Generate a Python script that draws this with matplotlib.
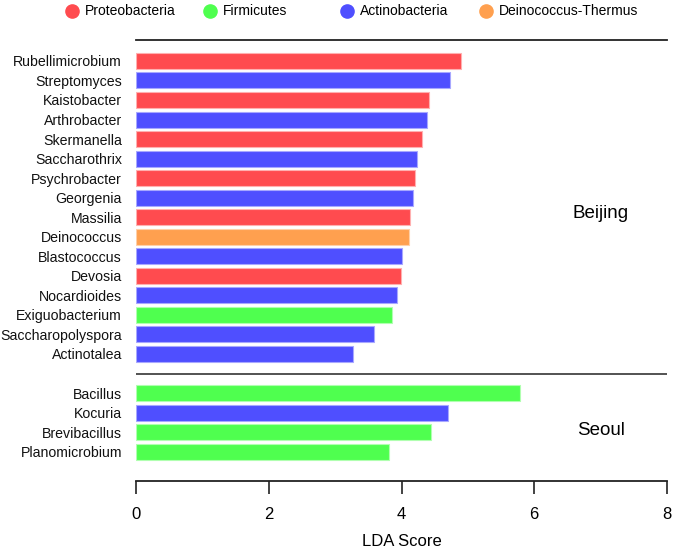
import matplotlib.pyplot as plt
from matplotlib.lines import Line2D

plt.rcParams['font.family'] = ['Liberation Sans', 'DejaVu Sans']

# Beijing enriched genera (top to bottom)
beijing_names = ['Rubellimicrobium', 'Streptomyces', 'Kaistobacter', 'Arthrobacter',
                 'Skermanella', 'Saccharothrix', 'Psychrobacter', 'Georgenia',
                 'Massilia', 'Deinococcus', 'Blastococcus', 'Devosia',
                 'Nocardioides', 'Exiguobacterium', 'Saccharopolyspora', 'Actinotalea']
beijing_lda = [4.89, 4.73, 4.42, 4.38, 4.31, 4.23, 4.20, 4.18,
               4.13, 4.11, 4.00, 3.99, 3.93, 3.86, 3.59, 3.27]
beijing_phylum = ['P', 'A', 'P', 'A', 'P', 'A', 'P', 'A',
                  'P', 'D', 'A', 'P', 'A', 'F', 'A', 'A']

# Seoul enriched genera
seoul_names = ['Bacillus', 'Kocuria', 'Brevibacillus', 'Planomicrobium']
seoul_lda = [5.78, 4.70, 4.45, 3.81]
seoul_phylum = ['F', 'A', 'F', 'F']

phyla = ['P', 'F', 'A', 'D']
phylum_names = ['Proteobacteria', 'Firmicutes', 'Actinobacteria', 'Deinococcus-Thermus']
colors = {'P': '#ff4b4f', 'F': '#4fff4f', 'A': '#4f4fff', 'D': '#ffa04f'}
edges = {'P': '#ffb0b0', 'F': '#b0ffb0', 'A': '#a8a8ff', 'D': '#ffd0a8'}

names = beijing_names + seoul_names
vals = beijing_lda + seoul_lda
phy = beijing_phylum + seoul_phylum
ypos = list(range(len(beijing_names))) + [len(beijing_names) + 1 + i for i in range(len(seoul_names))]

fig = plt.figure(figsize=(6.75, 5.49), dpi=100)
ax = fig.add_axes([136/675, 1 - 481/549, 531/675, 441/549])

ax.barh(ypos, vals, height=0.82, color=[colors[p] for p in phy],
        edgecolor=[edges[p] for p in phy], linewidth=0.8)

ax.set_ylim(21.5, -1.07)
ax.set_xlim(0, 8)
ax.set_yticks(ypos)
ax.set_yticklabels(names, fontsize=10.2, color='#111111')
ax.tick_params(axis='y', length=0, pad=10)
ax.set_xticks([0, 2, 4, 6, 8])
ax.tick_params(axis='x', length=9, width=1.2, labelsize=12, pad=10, color='#222222')
ax.set_xlabel('LDA Score', fontsize=12, labelpad=8)

for s in ['left', 'right']:
    ax.spines[s].set_visible(False)
ax.spines['top'].set_color('#222222')
ax.spines['top'].set_linewidth(1.3)
ax.spines['bottom'].set_linewidth(1.3)
ax.spines['bottom'].set_color('#222222')
ax.axhline(len(beijing_names), color='#444444', lw=1.3)

ax.text(7.0, 7.8, 'Beijing', fontsize=13.5, ha='center', va='center')
ax.text(7.0, 18.9, 'Seoul', fontsize=13.5, ha='center', va='center')

# legend along the top
lx = [72, 210, 347, 486]
for x, p, n in zip(lx, phyla, phylum_names):
    fig.add_artist(Line2D([x / 675], [1 - 11 / 549], marker='o', markersize=9.5,
                          color=colors[p], transform=fig.transFigure))
    fig.text((x + 13) / 675, 1 - 11 / 549, n, fontsize=10, va='center', ha='left')

fig.savefig('out.png', dpi=100)
